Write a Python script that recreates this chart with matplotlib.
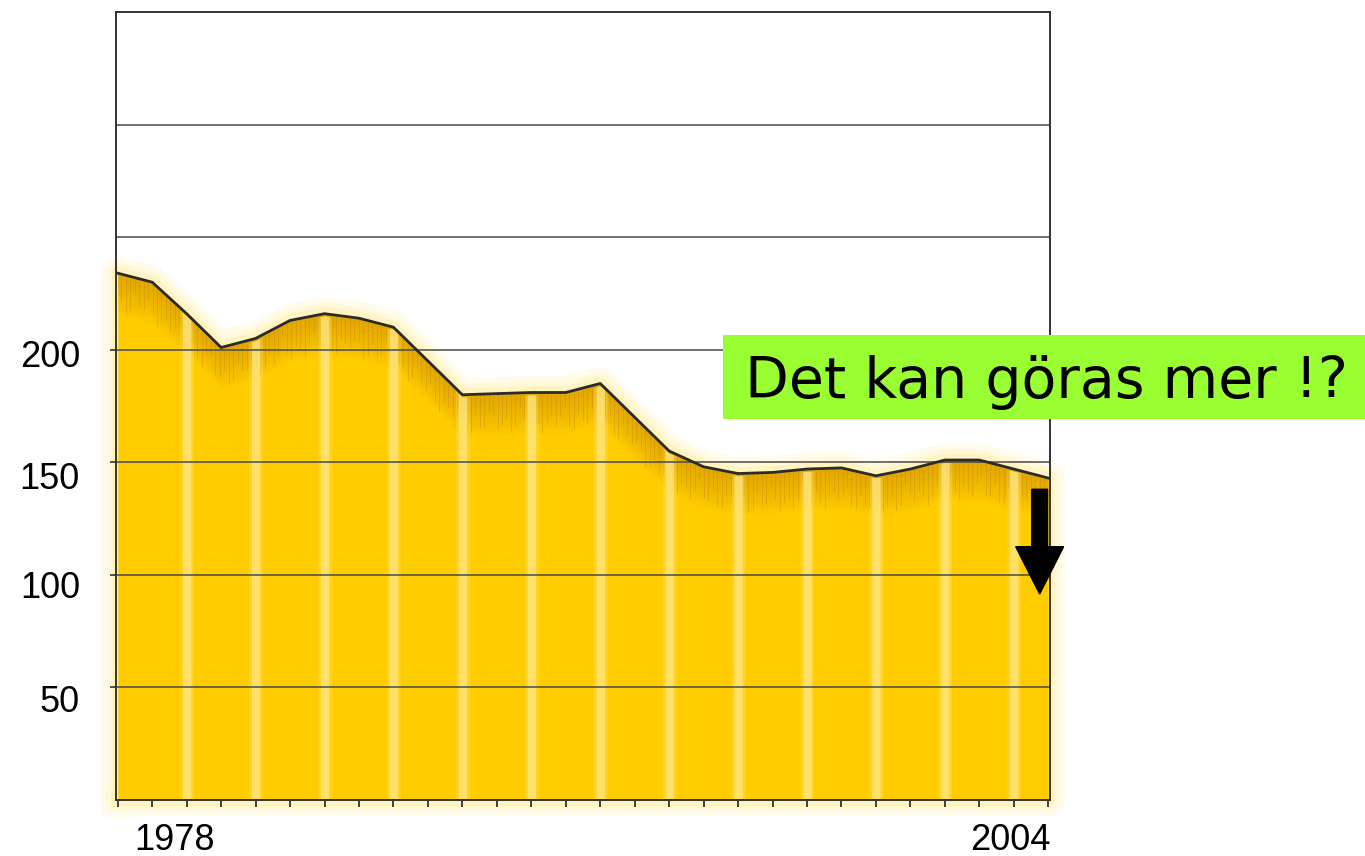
# plot.py
# Hand-drawn style area chart, 1977-2004, with a green note and a down arrow

import numpy as np
import matplotlib.pyplot as plt
import matplotlib.transforms as mtransforms
from matplotlib.patches import Rectangle, FancyArrow

# data
years = list(range(1977, 2005))
values = [234, 230, 216, 201, 205, 213, 216, 214, 210, 195,
          180, 180.5, 181, 181, 185, 170, 155, 148, 145, 145.5,
          147, 147.5, 144, 147, 151, 151, 147, 143]
grid_levels = [50, 100, 150, 200, 250, 300]
ytick_values = [200, 150, 100, 50]
ytick_labels = ["200", "150", "100", "50"]
xtick_labels = ["1978", "2004"]
message = "Det kan göras mer !?"

GOLD = "#FFCC00"
STRIPE = "#FFE680"
SHADE = "#C07A00"
LINE = "#2b2b2b"

fig = plt.figure(figsize=(13.65, 8.56), dpi=100)
ax = fig.add_axes([116 / 1365, 56 / 856, 934 / 1365, 788 / 856])

x = np.array(years, dtype=float)
y = np.array(values, dtype=float)

# soft glow round the yellow area
gx = np.concatenate([[x[0]], x, [x[-1], x[0]]])
gy = np.concatenate([[0], y, [0, 0]])
for lw, a in [(24, 0.10), (16, 0.14), (9, 0.2)]:
    ax.plot(gx, gy, color="#FFE35A", lw=lw, alpha=a, solid_joinstyle="round",
            clip_on=False, zorder=1)

# main fill
ax.fill_between(x, y, 0, color=GOLD, lw=0, zorder=2)

# darker shading just under the curve
for d in np.linspace(1.5, 18, 12):
    ax.fill_between(x, y - d, y, color=SHADE, alpha=0.04, lw=0, zorder=2.1)

# pencil strokes under the curve
xs = np.arange(1977.1, 2004, 0.13)
top = np.interp(xs, x, y)
lengths = 4 + 9 * np.abs(np.sin(xs * 7.3)) + 5 * np.abs(np.cos(xs * 3.1))
ax.vlines(xs, top - lengths, top - 1, color="#A86A00", lw=0.7, alpha=0.22, zorder=2.2)

# light vertical stripes every second year
for yr in range(1979, 2004, 2):
    for half, a in [(0.2, 0.3), (0.12, 0.75)]:
        sx = np.linspace(yr - half, yr + half, 5)
        ax.fill_between(sx, np.interp(sx, x, y) - 1, 0, color=STRIPE, alpha=a,
                        lw=0, zorder=2.3)

# grid lines drawn over the fill
for g in grid_levels:
    ax.axhline(g, color="#4a4a4a", lw=1.3, alpha=0.85, zorder=4)

# the curve itself
ax.plot(x, y, color=LINE, lw=2, zorder=5, solid_joinstyle="round")

ax.set_xlim(1976.95, 2004.05)
ax.set_ylim(0, 350)
for side in ["left", "right", "top", "bottom"]:
    ax.spines[side].set_color("#333333")
    ax.spines[side].set_linewidth(1.4)
    ax.spines[side].set_zorder(6)

ax.set_xticks(years)
ax.set_xticklabels([])
ax.tick_params(axis="x", direction="out", length=5, width=1.3, color="#333333")

ax.set_yticks(ytick_values)
ax.set_yticklabels(ytick_labels, fontsize=26, family="Liberation Sans")
ax.tick_params(axis="y", direction="out", length=4, width=1.2, color="#333333", pad=22)
drops = [4, 13, 10, 11]
for lab, dp in zip(ax.get_yticklabels(), drops):
    lab.set_transform(lab.get_transform() +
                      mtransforms.ScaledTranslation(0, -dp / 100, fig.dpi_scale_trans))

# year labels under the axis
tx = ax.get_xaxis_transform()
ax.text(1978.65, -50 / 788, xtick_labels[0], transform=tx, ha="center", va="baseline",
        fontsize=26, family="Liberation Sans")
ax.text(2002.9, -50 / 788, xtick_labels[1], transform=tx, ha="center", va="baseline",
        fontsize=26, family="Liberation Sans")

# black arrow pointing down
arrow = FancyArrow(2003.75, 138, 0, -46.5, width=0.46, head_width=1.39,
                   head_length=21, length_includes_head=True, color="black",
                   clip_on=False, zorder=8)
ax.add_patch(arrow)

# green note box
fig.add_artist(Rectangle((723 / 1365, (856 - 419) / 856), 642 / 1365, 84 / 856,
                         transform=fig.transFigure, color="#99FF33", lw=0, zorder=10))
fig.text(745 / 1365, (856 - 398) / 856, message, fontsize=41, family="DejaVu Sans",
         ha="left", va="baseline", zorder=11)

fig.savefig("out.png", dpi=100)
